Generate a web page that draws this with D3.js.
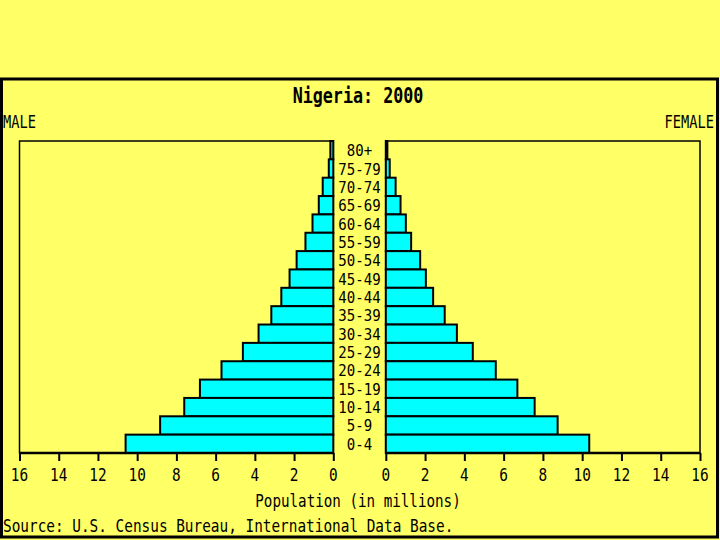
<!DOCTYPE html>
<html>
<head>
<meta charset="utf-8">
<script src="https://cdn.jsdelivr.net/npm/d3@7"></script>
<style>
  html, body { margin: 0; padding: 0; background: #ffff66; }
  svg { display: block; }
</style>
</head>
<body>
<div id="chart"></div>
<script>
// Age groups, top to bottom
const ageGroups = ['80+', '75-79', '70-74', '65-69', '60-64', '55-59', '50-54', '45-49',
  '40-44', '35-39', '30-34', '25-29', '20-24', '15-19', '10-14', '5-9', '0-4'];

// Population in millions
const maleValues = [0.15, 0.23, 0.54, 0.74, 1.06, 1.42, 1.87, 2.23,
  2.65, 3.16, 3.81, 4.61, 5.7, 6.8, 7.6, 8.83, 10.59];
const femaleValues = [0.08, 0.2, 0.5, 0.75, 1.02, 1.29, 1.75, 2.04,
  2.41, 3.0, 3.62, 4.43, 5.6, 6.7, 7.58, 8.75, 10.36];

const tickValues = [0, 2, 4, 6, 8, 10, 12, 14, 16];

const W = 720, H = 540;
const FONT = '"DejaVu Sans Mono", "Liberation Mono", monospace';
const colors = { bg: '#ffff66', bar: '#00ffff', ink: '#000000' };

const svg = d3.select('#chart').append('svg')
  .attr('width', W)
  .attr('height', H);

svg.append('rect')
  .attr('width', W).attr('height', H)
  .attr('fill', colors.bg);

// Outer frame
svg.append('rect')
  .attr('x', 1.5).attr('y', 79)
  .attr('width', 716).attr('height', 458)
  .attr('fill', 'none')
  .attr('stroke', colors.ink)
  .attr('stroke-width', 3);

// Narrow pixel-ish text: squeeze a monospace font horizontally
function label(x, y, str, opts = {}) {
  const size = opts.size || 18;
  const sx = opts.sx || 0.8;
  return svg.append('text')
    .attr('transform', `translate(${x},${y}) scale(${sx},1)`)
    .attr('text-anchor', opts.anchor || 'middle')
    .attr('font-family', FONT)
    .attr('font-size', size)
    .attr('font-weight', opts.bold ? 'bold' : 'normal')
    .attr('fill', colors.ink)
    .text(str);
}

const plotTop = 141, plotBottom = 453;

const y = d3.scaleBand()
  .domain(ageGroups)
  .range([plotTop, plotBottom])
  .padding(0);

const xMale = d3.scaleLinear().domain([16, 0]).range([19.5, 333.3]);
const xFemale = d3.scaleLinear().domain([0, 16]).range([385.8, 700]);

// Panel boxes
[xMale, xFemale].forEach(sc => {
  const [a, b] = sc.range();
  svg.append('rect')
    .attr('x', Math.min(a, b)).attr('y', plotTop)
    .attr('width', Math.abs(b - a)).attr('height', plotBottom - plotTop)
    .attr('fill', 'none')
    .attr('stroke', colors.ink)
    .attr('stroke-width', 1.5);
});

// Male bars
svg.selectAll('.male')
  .data(ageGroups)
  .enter()
  .append('rect')
  .attr('class', 'male')
  .attr('x', (d, i) => xMale(maleValues[i]))
  .attr('y', d => y(d))
  .attr('width', (d, i) => xMale(0) - xMale(maleValues[i]))
  .attr('height', y.bandwidth())
  .attr('fill', colors.bar)
  .attr('stroke', colors.ink)
  .attr('stroke-width', 2);

// Female bars
svg.selectAll('.female')
  .data(ageGroups)
  .enter()
  .append('rect')
  .attr('class', 'female')
  .attr('x', xFemale(0))
  .attr('y', d => y(d))
  .attr('width', (d, i) => xFemale(femaleValues[i]) - xFemale(0))
  .attr('height', y.bandwidth())
  .attr('fill', colors.bar)
  .attr('stroke', colors.ink)
  .attr('stroke-width', 2);

// Age labels in the middle column
ageGroups.forEach(a => {
  label(359.5, y(a) + y.bandwidth() / 2 + 6, a, { size: 16, sx: 0.88 });
});

// Bottom axes
[xMale, xFemale].forEach(sc => {
  const r = sc.range();
  const axis = svg.append('g')
    .attr('transform', `translate(0,${plotBottom})`)
    .call(d3.axisBottom(sc).tickValues(tickValues).tickSize(8).tickFormat(''));
  axis.select('.domain').attr('stroke', colors.ink).attr('stroke-width', 2.5)
    .attr('d', `M${Math.min(...r)},0H${Math.max(...r)}`);
  axis.selectAll('.tick line').attr('stroke', colors.ink).attr('stroke-width', 2);
  tickValues.forEach(t => label(sc(t), 480.5, String(t), { size: 18, sx: 0.8 }));
});

// Texts
label(358, 103, 'Nigeria: 2000', { size: 22, sx: 0.76, bold: true });
label(3, 128, 'MALE', { size: 18.5, sx: 0.74, anchor: 'start' });
label(714, 128, 'FEMALE', { size: 18.5, sx: 0.74, anchor: 'end' });
label(358, 506.5, 'Population (in millions)', { size: 18, sx: 0.79 });
label(3, 532, 'Source: U.S. Census Bureau, International Data Base.', { size: 18, sx: 0.8, anchor: 'start' });
</script>
</body>
</html>
